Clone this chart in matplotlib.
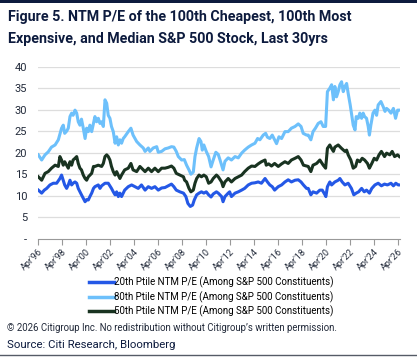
import matplotlib
matplotlib.use("Agg")
import matplotlib.pyplot as plt
from matplotlib.lines import Line2D
import numpy as np

# x = years since Apr'96
p80_t = [0, 0.28, 0.56, 0.83, 1.1, 1.4, 1.67, 1.94, 2.08, 2.2, 2.36, 2.5, 2.64, 2.78, 2.9, 3.06,
         3.2, 3.33, 3.47, 3.6, 3.75, 3.9, 4.03, 4.17, 4.3, 4.45, 4.6, 4.72, 4.86, 5.0, 5.14,
         5.28, 5.42, 5.56, 5.7, 5.83, 5.97, 6.1, 6.25, 6.4, 6.53, 6.67, 6.8, 6.94, 7.08, 7.2,
         7.5, 7.72, 7.9, 8.2, 8.47, 8.75, 8.9, 9.17, 9.3, 9.58, 9.87, 10.0, 10.28, 10.56, 10.83,
         11.1, 11.3, 11.5, 11.67, 11.95, 12.17, 12.36, 12.56, 12.72, 12.92, 13.06, 13.2, 13.4,
         13.56, 13.67, 13.8, 14.0, 14.2, 14.4, 14.58, 14.8, 15.0, 15.15, 15.4, 15.56, 15.83,
         16.1, 16.4, 16.67, 16.95, 17.2, 17.5, 17.78, 18.06, 18.28, 18.47, 18.75, 18.95, 19.1,
         19.3, 19.5, 19.7, 19.86, 20.06, 20.28, 20.56, 20.83, 21.1, 21.4, 21.67, 21.9, 22.08,
         22.36, 22.5, 22.72, 22.9, 23.1, 23.33, 23.56, 23.75, 23.95, 24.1, 24.3, 24.45, 24.6,
         24.72, 24.86, 25.0, 25.14, 25.28, 25.42, 25.56, 25.7, 25.83, 26.0, 26.1, 26.25, 26.4,
         26.5, 26.67, 26.8, 26.95, 27.08, 27.2, 27.36, 27.5, 27.6, 27.72, 27.9, 28.06, 28.2,
         28.33, 28.56, 28.75, 28.9, 29.03, 29.2, 29.4, 29.6, 29.78, 29.95, 30.1]
p80_v = [19.5, 18.3, 19.5, 20.2, 21.3, 21.8, 23.0, 25.7, 26.4, 24.5, 25.0, 25.7, 28.4, 29.2, 28.7, 29.9,
         29.2, 27.2, 26.4, 27.8, 25.7, 23.3, 25.7, 24.9, 26.4, 24.9, 26.8, 28.4, 27.2, 28.0, 26.8,
         27.2, 26.1, 32.3, 31.5, 28.7, 28.0, 26.1, 24.9, 22.2, 23.7, 21.8, 23.0, 22.2, 23.3, 23.7,
         24.9, 25.7, 24.1, 22.6, 21.8, 21.1, 20.3, 21.1, 20.3, 21.1, 21.4, 20.1, 20.3, 20.9, 21.1,
         21.4, 21.3, 20.3, 19.1, 18.3, 18.4, 17.1, 16.0, 15.0, 15.5, 19.1, 21.1, 23.3,
         22.6, 20.6, 21.8, 20.3, 19.1, 16.7, 18.3, 20.1, 19.6, 18.3, 16.0, 18.0, 18.8,
         18.3, 19.1, 18.8, 19.9, 20.6, 21.3, 21.8, 22.2, 23.3, 23.0, 24.1, 24.5, 23.6,
         23.3, 24.1, 23.0, 22.1, 23.7, 23.3, 24.9, 24.9, 25.7, 26.1, 26.7, 26.1, 24.5,
         24.1, 24.1, 23.0, 24.9, 25.7, 26.8, 27.2, 26.1, 26.1, 34.2, 35.0, 35.8, 32.3,
         35.4, 33.0, 34.2, 35.8, 36.5, 34.2, 35.4, 36.1, 33.8, 31.1, 29.2, 26.4, 25.3,
         28.4, 28.0, 29.2, 28.0, 29.2, 28.4, 28.0, 26.1, 24.1, 26.4, 29.2, 29.9, 28.7,
         31.1, 31.9, 30.7, 29.6, 30.3, 29.9, 29.2, 30.3, 28.0, 29.9, 29.9]

p50_t = [0, 0.28, 0.56, 0.83, 1.1, 1.4, 1.67, 1.8, 1.94, 2.08, 2.2, 2.5, 2.64, 2.78, 2.9, 3.06,
         3.2, 3.33, 3.47, 3.6, 3.75, 3.9, 4.03, 4.17, 4.45, 4.6, 4.72, 5.0, 5.28, 5.42, 5.56,
         5.7, 5.83, 5.97, 6.1, 6.25, 6.4, 6.53, 6.67, 6.8, 6.94, 7.2, 7.5, 7.72, 7.9, 8.2, 8.47,
         8.75, 8.9, 9.17, 9.44, 9.72, 10.0, 10.28, 10.56, 10.83, 11.1, 11.3, 11.5, 11.8, 12.1,
         12.2, 12.36, 12.56, 12.72, 12.92, 13.06, 13.2, 13.4, 13.6, 13.8, 14.0, 14.2, 14.4,
         14.58, 14.85, 15.0, 15.28, 15.4, 15.56, 15.83, 16.1, 16.4, 16.67, 16.95, 17.2, 17.5,
         17.78, 18.06, 18.33, 18.6, 18.9, 19.0, 19.2, 19.44, 19.7, 20.0, 20.28, 20.56, 20.83,
         21.1, 21.4, 21.67, 21.9, 22.1, 22.36, 22.5, 22.72, 22.9, 23.2, 23.47, 23.75, 23.95,
         24.1, 24.3, 24.45, 24.6, 24.72, 25.0, 25.28, 25.56, 25.7, 25.83, 26.05, 26.25, 26.45,
         26.6, 26.8, 27.0, 27.2, 27.44, 27.6, 27.8, 28.0, 28.2, 28.4, 28.6, 28.86, 29.03, 29.3,
         29.5, 29.7, 29.95, 30.1]
p50_v = [14.4, 13.6, 15.2, 15.6, 16.4, 17.1, 16.8, 19.1, 18.3, 17.1, 17.9, 16.4, 17.9, 17.1, 18.3, 18.7,
         19.1, 17.5, 16.4, 16.0, 14.8, 14.0, 13.6, 14.4, 15.2, 16.8, 16.8, 17.1, 16.8, 17.5, 19.1,
         19.5, 19.1, 18.3, 16.8, 15.6, 14.8, 15.6, 14.8, 14.0, 14.8, 16.0, 16.4, 17.5, 16.0, 15.6, 16.8,
         16.0, 15.6, 16.4, 15.6, 16.4, 15.6, 16.4, 16.4, 16.6, 16.9, 16.4, 15.2, 14.8, 14.4,
         13.6, 13.2, 11.7, 10.9, 11.3, 12.9, 14.0, 14.8, 14.4, 14.8, 14.4, 12.9, 13.2,
         14.0, 14.8, 14.4, 13.2, 12.1, 13.2, 14.0, 13.2, 14.0, 14.4, 14.8, 15.6, 16.4,
         16.9, 16.8, 17.4, 17.9, 18.3, 17.1, 17.4, 16.9, 17.5, 16.8, 17.4, 17.9, 17.5,
         18.3, 18.7, 19.1, 18.3, 17.1, 16.9, 16.8, 15.6, 17.1, 17.5, 18.3, 17.1, 16.4,
         21.0, 21.8, 21.0, 20.3, 21.3, 21.8, 21.0, 20.3, 20.6, 19.5, 18.3, 16.4, 16.8,
         18.3, 17.9, 18.7, 18.3, 17.5, 16.4, 17.5, 18.7, 18.3, 19.5, 20.3, 19.1, 19.9, 19.5,
         20.3, 19.1, 19.5, 19.1]

p20_t = [0, 0.28, 0.5, 0.7, 0.97, 1.25, 1.53, 1.8, 1.94, 2.08, 2.2, 2.36, 2.5, 2.64, 2.78, 2.9,
         3.06, 3.2, 3.33, 3.47, 3.6, 3.75, 3.9, 4.03, 4.17, 4.3, 4.45, 4.6, 4.72, 5.0, 5.14,
         5.28, 5.56, 5.83, 6.1, 6.25, 6.4, 6.53, 6.67, 6.8, 6.94, 7.2, 7.5, 7.78, 8.06, 8.33,
         8.6, 8.9, 9.17, 9.44, 9.72, 10.0, 10.28, 10.56, 10.83, 11.1, 11.3, 11.5, 11.8, 12.1,
         12.3, 12.47, 12.67, 12.86, 13.0, 13.2, 13.4, 13.6, 13.8, 14.0, 14.2, 14.4, 14.58,
         14.85, 15.0, 15.28, 15.4, 15.56, 15.83, 15.95, 16.1, 16.4, 16.67, 16.95, 17.2, 17.5,
         17.78, 18.06, 18.33, 18.6, 18.9, 19.1, 19.3, 19.5, 19.7, 20.0, 20.28, 20.56, 20.83,
         21.1, 21.4, 21.67, 21.9, 22.1, 22.36, 22.5, 22.72, 22.9, 23.2, 23.47, 23.67, 23.9,
         23.97, 24.1, 24.3, 24.45, 24.72, 25.0, 25.14, 25.33, 25.56, 25.83, 26.1, 26.3, 26.5,
         26.7, 26.95, 27.17, 27.36, 27.6, 27.8, 28.06, 28.33, 28.6, 28.86, 29.1, 29.4, 29.6,
         29.8, 30.0, 30.1]
p20_v = [11.3, 10.6, 11.3, 11.7, 12.5, 12.9, 12.9, 14.0, 14.8, 13.6, 12.5, 11.7, 12.5, 13.6, 12.5, 12.9,
         13.2, 12.9, 11.7, 10.9, 10.2, 9.4, 8.6, 9.1, 9.0, 9.8, 10.6, 11.7, 12.1, 12.5, 11.7,
         12.3, 12.9, 12.9, 11.7, 10.9, 10.2, 10.9, 9.8, 10.6, 9.8, 11.3, 12.1, 12.5, 12.1, 11.7,
         12.5, 11.3, 12.1, 11.7, 12.1, 11.3, 11.8, 11.9, 12.3, 12.7, 12.1, 11.3, 10.9, 10.6,
         9.8, 8.2, 7.5, 7.8, 9.0, 10.2, 10.6, 10.9, 10.6, 10.9, 10.2, 9.7, 10.4,
         10.9, 10.6, 9.8, 8.6, 9.8, 10.6, 10.9, 9.8, 10.6, 10.9, 11.3, 11.7, 12.5,
         12.9, 13.0, 13.2, 12.9, 14.0, 13.2, 12.5, 12.1, 11.3, 12.1, 12.5, 13.2, 13.7,
         13.2, 13.6, 13.7, 13.2, 12.5, 11.7, 11.7, 10.2, 10.9, 10.6, 11.3, 11.3, 10.2,
         9.8, 12.1, 13.2, 12.5, 13.2, 13.6, 14.0, 13.2, 12.5, 12.9, 11.7, 10.2, 10.6,
         10.9, 11.7, 10.9, 11.3, 10.6, 11.7, 12.5, 12.9, 12.3, 12.7, 12.5, 12.9, 12.3,
         12.9, 12.5, 12.5]

tick_years = list(range(0, 31, 2))
tick_labels = ["Apr'%02d" % ((96 + y) % 100) for y in tick_years]
y_ticks = [0, 5, 10, 15, 20, 25, 30, 35, 40]
y_labels = ["-", "5", "10", "15", "20", "25", "30", "35", "40"]

labels = ["20th Ptile NTM P/E (Among S&P 500 Constituents)",
          "80th Ptile NTM P/E (Among S&P 500 Constituents)",
          "50th Ptile NTM P/E (Among S&P 500 Constituents)"]
colors = ["#2458e6", "#6dc0fb", "#193321"]

navy = "#0d1b3e"
small = ["Roboto", "DejaVu Sans"]

W, H = 417, 357
fig = plt.figure(figsize=(W / 100, H / 100), dpi=100)

# top bar and bottom rule
fig.add_artist(plt.Rectangle((0, 1 - 3 / H), 1, 3 / H, transform=fig.transFigure,
                             color=navy, lw=0))
fig.add_artist(Line2D([0, 1], [1 - 355 / H, 1 - 355 / H], transform=fig.transFigure,
                      color="#555b66", lw=1))

fig.text(8 / W, 1 - 17 / H, "Figure 5. NTM P/E of the 100th Cheapest, 100th Most",
         fontsize=10.3, fontweight="bold", family="Roboto", color=navy, va="center")
fig.text(8 / W, 1 - 39 / H, "Expensive, and Median S&P 500 Stock, Last 30yrs",
         fontsize=10.3, fontweight="bold", family="Roboto", color=navy, va="center")

ax = fig.add_axes([38.3 / W, 1 - 238.7 / H, 361.7 / W, 172 / H])
ax.plot(p80_t, p80_v, color=colors[1], lw=2.2, solid_joinstyle="round")
ax.plot(p50_t, p50_v, color=colors[2], lw=2.2, solid_joinstyle="round")
ax.plot(p20_t, p20_v, color=colors[0], lw=2.2, solid_joinstyle="round")

ax.set_xlim(0, 30.15)
ax.set_ylim(0, 40)
ax.set_yticks(y_ticks)
ax.set_yticklabels(y_labels, family=small, fontsize=8, color="#222a3a")
ax.set_xticks(tick_years)
ax.set_xticklabels(tick_labels, rotation=45, ha="right", rotation_mode="anchor",
                   family=small, fontsize=6.6, color="#222a3a")
ax.tick_params(axis="y", length=0, pad=8)
ax.tick_params(axis="x", length=4, color="#999999", pad=2)
for y in y_ticks[1:]:
    ax.axhline(y, color="#dddddd", lw=0.9, zorder=0)
for s in ["top", "right", "left"]:
    ax.spines[s].set_visible(False)
ax.spines["bottom"].set_color("#999999")

handles = [Line2D([], [], color=c, lw=2.5) for c in colors]
fig.legend(handles, labels, loc="center", bbox_to_anchor=(211 / W, 1 - 297 / H),
           frameon=False, ncol=1, handlelength=2.6, handletextpad=0.0,
           labelspacing=0.3, borderpad=0,
           prop={"family": small, "size": 7.0})

fig.text(7 / W, 1 - 328 / H,
         "\u00a9 2026 Citigroup Inc. No redistribution without Citigroup\u2019s written permission.",
         fontsize=6.9, family=small, color="#222a3a", va="center")
fig.text(7 / W, 1 - 345 / H, "Source: Citi Research, Bloomberg",
         fontsize=8.2, family=small, color=navy, va="center")

fig.savefig("out.png", dpi=100)
